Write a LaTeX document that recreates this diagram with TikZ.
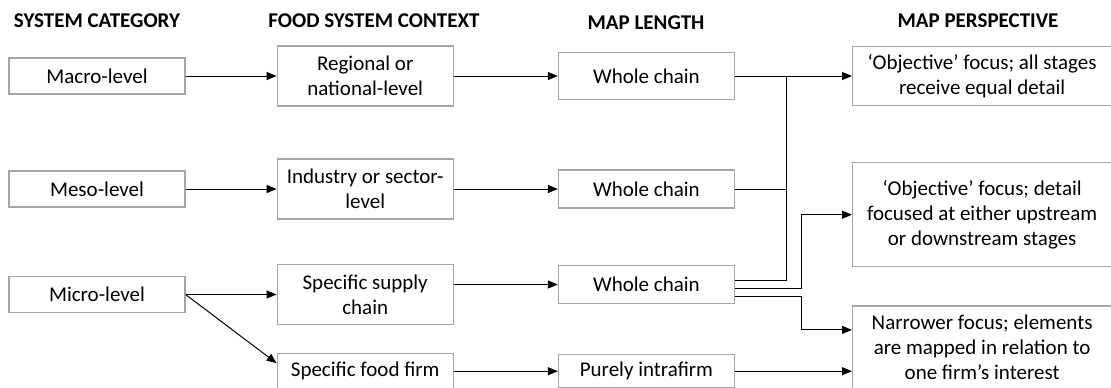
\documentclass[tikz,border=0pt]{standalone}
\usepackage{fontspec}
\setmainfont{Carlito}
\usepackage{tikz}
\usetikzlibrary{arrows.meta,positioning}
\tikzset{
  box/.style={draw=black!35, line width=0.6pt, align=center, inner sep=2pt, minimum width=88pt, minimum height=18pt, font=\fontsize{10.5pt}{12.5pt}\selectfont},
  widebox/.style={box, minimum width=129.5pt},
  head/.style={align=center, font=\fontsize{10.5pt}{12.5pt}\selectfont\bfseries},
  arrow/.style={-{Triangle[length=5pt,width=4pt]}, line width=0.5pt},
  link/.style={line width=0.5pt}
}
\begin{document}
\begin{tikzpicture}[x=0.5pt, y=-0.5pt]
\useasboundingbox (0,0) rectangle (1111,387);
% column heads
\node[head] (hcat) at (97,21) {SYSTEM CATEGORY};
\node[head] (hctx) at (374,21) {FOOD SYSTEM CONTEXT};
\node[head] (hlen) at (646,23) {MAP LENGTH};
\node[head] (hper) at (978,21) {MAP PERSPECTIVE};
% macro row
\node[box] (macro) at (97,76) {Macro-level};
\node[box, right=45.5pt of macro, minimum height=30pt] (regional) {Regional or\\national-level};
\node[box, right=52pt of regional, minimum height=23.5pt] (whole1) {Whole chain};
\node[widebox, right=58.5pt of whole1, minimum height=29.5pt] (persp1) {‘Objective’ focus; all stages\\receive equal detail};
% meso row
\node[box] (meso) at (97,189) {Meso-level};
\node[box, right=45.5pt of meso, minimum height=30pt] (industry) {Industry or sector-\\level};
\node[box, right=52pt of industry, minimum height=19pt] (whole2) {Whole chain};
\node[widebox, below=28pt of persp1, minimum height=52pt] (persp2) {‘Objective’ focus; detail\\focused at either upstream\\or downstream stages};
% micro row
\node[box] (micro) at (97,294.5) {Micro-level};
\node[box, right=45.5pt of micro, minimum height=30pt] (supply) {Specific supply\\chain};
\node[box, right=52pt of supply, yshift=5pt, minimum height=19pt] (whole3) {Whole chain};
\node[widebox, below=19pt of persp2, minimum height=41.5pt] (persp3) {Narrower focus; elements\\are mapped in relation to\\one firm’s interest};
\node[box, below=14pt of supply, minimum height=17.5pt] (food) {Specific food firm};
\node[box, right=52pt of food, minimum height=16.5pt] (intra) {Purely intrafirm};
\coordinate (trunk) at ([xshift=25.5pt]whole1.east);
% connectors
\draw[arrow] (macro) -- (regional);
\draw[arrow] (regional) -- (whole1);
\draw[arrow] (whole1) -- (persp1);
\draw[arrow] (meso) -- (industry);
\draw[arrow] (industry) -- (whole2);
\draw[link] (whole2.east) -- (whole2.east -| trunk);
\draw[arrow] (micro.east) -- (supply.west);
\draw[arrow] (micro.east) -- ([yshift=4pt]food.west);
\draw[arrow] (supply.east |- whole3.west) -- (whole3.west);
\draw[arrow] (food) -- (intra);
\draw[link] ([yshift=2pt]whole3.east) -| (trunk);
\draw[arrow] ([yshift=-2pt]whole3.east) -- ++(33pt,0) |- (persp2.west);
\draw[arrow] ([yshift=-6pt]whole3.east) -- ++(33pt,0) |- ([yshift=8.75pt]persp3.west);
\draw[arrow] (intra.east) -- (intra.east -| persp3.west);
\end{tikzpicture}
\end{document}
